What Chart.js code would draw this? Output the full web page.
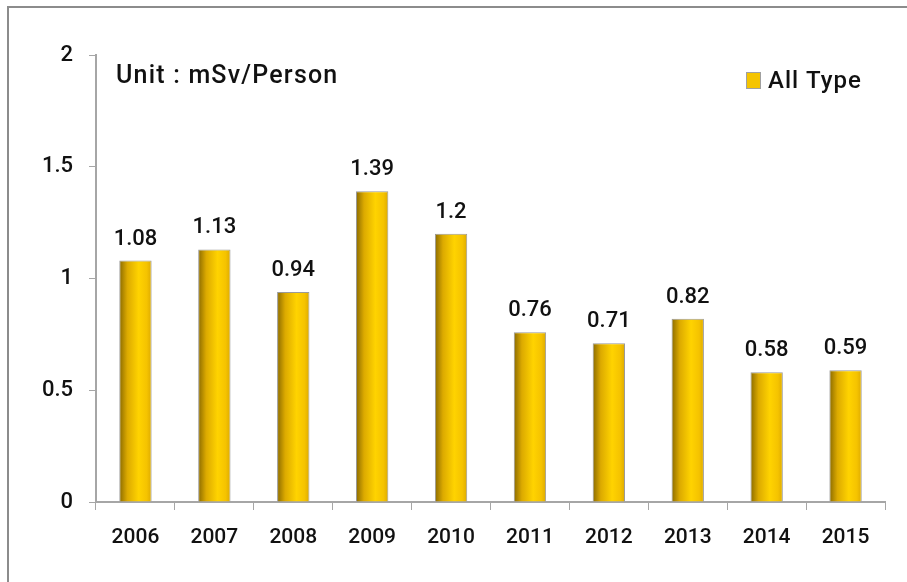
<!DOCTYPE html>
<html>
<head>
<meta charset="utf-8">
<script src="https://cdn.jsdelivr.net/npm/chart.js@4"></script>
<style>
  html, body { margin: 0; padding: 0; background: #fff; }
  #wrap { position: relative; width: 907px; height: 582px; overflow: hidden; }
  #frame { position: absolute; left: 7px; top: 6px; width: 1000px; height: 700px;
           border-left: 2px solid #8c8c8c; border-top: 2px solid #8c8c8c; }
  canvas { position: absolute; left: 0; top: 0; }
</style>
</head>
<body>
<div id="wrap">
  <div id="frame"></div>
  <canvas id="grafico" width="907" height="582"></canvas>
</div>
<script>
// Datos del gráfico
const anios = ["2006", "2007", "2008", "2009", "2010", "2011", "2012", "2013", "2014", "2015"];
const dosis = [1.08, 1.13, 0.94, 1.39, 1.2, 0.76, 0.71, 0.82, 0.58, 0.59];
const ticksY = [0, 0.5, 1, 1.5, 2];
const nombreSerie = "All Type";
const unidad = "Unit : mSv/Person";

const fuente = "Roboto, 'Noto Sans', sans-serif";
const gris = "#a6a6a6";
const texto = "#111";

// Gradiente horizontal de cada barra
function colorBarra(ctx) {
    const chart = ctx.chart;
    const x = chart.scales.x;
    if (!x || !chart.chartArea || ctx.dataIndex === undefined) return "#f5c400";
    const centro = x.getPixelForValue(ctx.dataIndex);
    const ancho = (x.width / anios.length) * 0.41;
    const g = chart.ctx.createLinearGradient(centro - ancho / 2, 0, centro + ancho / 2, 0);
    g.addColorStop(0, "#8a6a00");
    g.addColorStop(0.25, "#dcaa00");
    g.addColorStop(0.6, "#ffd300");
    g.addColorStop(0.85, "#f5c300");
    g.addColorStop(1, "#ddaa00");
    return g;
}

// Etiquetas, unidad y leyenda
const extras = {
    id: "extras",
    afterDatasetsDraw(chart) {
        const c = chart.ctx;
        c.save();
        c.fillStyle = texto;
        c.textAlign = "center";
        c.textBaseline = "alphabetic";
        c.font = "500 22px " + fuente;
        chart.getDatasetMeta(0).data.forEach((bar, i) => {
            c.fillText(String(dosis[i]), bar.x, bar.y - 16);
        });
        c.textAlign = "left";
        c.font = "500 25px " + fuente;
        c.letterSpacing = "1.2px";
        c.fillText(unidad, 116, 83);
        // leyenda
        c.fillStyle = "#f5c400";
        c.fillRect(746, 72, 14, 16);
        c.strokeStyle = "#a0a0a0";
        c.lineWidth = 1;
        c.strokeRect(746.5, 72.5, 14, 16);
        c.fillStyle = texto;
        c.font = "500 24px " + fuente;
        c.letterSpacing = "1px";
        c.fillText(nombreSerie, 768, 88);
        c.restore();
    }
};

new Chart(document.getElementById("grafico"), {
    type: "bar",
    data: {
        labels: anios,
        datasets: [{
            label: nombreSerie,
            data: dosis,
            backgroundColor: colorBarra,
            borderColor: "#9a9a9a",
            borderWidth: 1,
            borderSkipped: "bottom",
            barPercentage: 0.41,
            categoryPercentage: 1
        }]
    },
    options: {
        responsive: false,
        animation: false,
        layout: { padding: { top: 55, right: 22, left: 0, bottom: 0 } },
        plugins: { legend: { display: false }, tooltip: { enabled: false } },
        scales: {
            x: {
                afterFit(s) { s.height = 80; },
                grid: { drawOnChartArea: false, drawTicks: true, tickLength: 8, color: gris, offset: true },
                border: { color: gris, width: 2 },
                ticks: { color: texto, padding: 15, font: { family: fuente, size: 21, weight: "500" } }
            },
            y: {
                min: 0,
                max: 2,
                afterFit(s) { s.width = 96; },
                afterBuildTicks(s) { s.ticks = ticksY.map(v => ({ value: v })); },
                grid: { drawOnChartArea: false, drawTicks: true, tickLength: 7, color: gris },
                border: { color: gris, width: 2 },
                ticks: {
                    color: texto, padding: 16,
                    font: { family: fuente, size: 22, weight: "500" },
                    callback: v => String(v)
                }
            }
        }
    },
    plugins: [extras]
});
</script>
</body>
</html>
